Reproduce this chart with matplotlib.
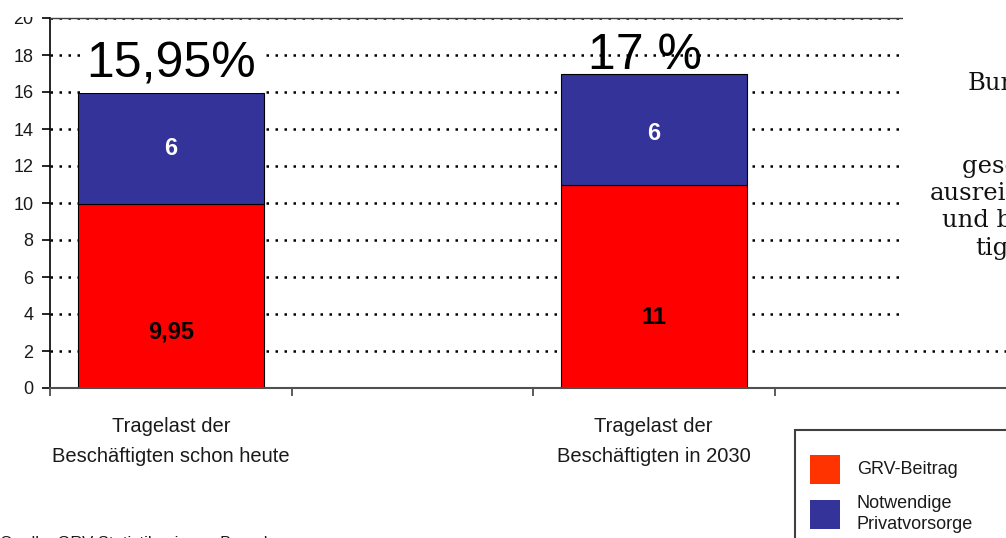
import matplotlib
matplotlib.use("Agg")
import matplotlib.pyplot as plt
from matplotlib.patches import Rectangle
import numpy as np

kategorien = ["Tragelast der\nBeschäftigten schon heute", "Tragelast der\nBeschäftigten in 2030"]
positionen = [0, 2]          # 4 Slots auf der Achse, nur 1 und 3 belegt
grv_beitrag = [9.95, 11]
privatvorsorge = [6, 6]
summen_text = ["15,95%", "17 %"]
serien = ["GRV-Beitrag", "Notwendige\nPrivatvorsorge"]
farben_balken = ["#ff0000", "#333399"]
farben_legende = ["#ff3300", "#333399"]
y_ticks = np.arange(0, 21, 2)

rechter_text = ["Bundesregierung:", "", "", "gesetzliche Rente",
                "ausreichend", "und bezahlbar", "tigt"]

W, H = 1006, 538
plt.rcParams['font.family'] = ['Liberation Sans', 'DejaVu Sans']

fig = plt.figure(figsize=(W / 100, H / 100), dpi=100)
ax = fig.add_axes([50 / W, 150 / H, 966 / W, 370 / H])
ax.set_xlim(-0.5, 3.5)
ax.set_ylim(0, 20)

ax.set_yticks(y_ticks)
ax.yaxis.grid(True, linestyle=(0, (1, 2.6)), linewidth=1.8, color="black")
ax.set_axisbelow(True)

# gestapelte Balken
ax.bar(positionen, grv_beitrag, width=0.77, color=farben_balken[0],
       edgecolor="black", linewidth=0.8, zorder=2)
ax.bar(positionen, privatvorsorge, bottom=grv_beitrag, width=0.77,
       color=farben_balken[1], edgecolor="black", linewidth=0.8, zorder=2)

def de(v):
    return f"{v:g}".replace(".", ",")

# Beschriftungen in den Balken (rote Werte sitzen tiefer als die Mitte)
rot_label_y = [3.0, 3.8]
blau_label_dy = [0, 0.25]
for x, g, p, ry, bdy in zip(positionen, grv_beitrag, privatvorsorge, rot_label_y, blau_label_dy):
    ax.text(x, ry, de(g), ha="center", va="center", fontsize=17,
            fontweight="bold", color="black", zorder=3)
    ax.text(x, g + p / 2 - bdy, de(p), ha="center", va="center", fontsize=17,
            fontweight="bold", color="white", zorder=3)

# Summen oberhalb
summe_y = [16.76, 17.25]
summe_dx = [0, -0.037]
for i, (x, t, sy, dx) in enumerate(zip(positionen, summen_text, summe_y, summe_dx)):
    kw = {}
    if i == 0:
        kw["bbox"] = dict(facecolor="white", edgecolor="none", pad=4)
    ax.text(x + dx, sy, t, ha="center", va="baseline", fontsize=36,
            color="black", zorder=3, **kw)

ax.set_xticks(positionen, kategorien)
ax.set_xticks(np.arange(-0.5, 4, 1), minor=True)
ax.tick_params(axis="x", which="major", length=0, pad=21, labelsize=14.5,
               labelcolor="#1a1a1a")
ax.tick_params(axis="x", which="minor", length=6, width=1.2, color="#404040")
for lab in ax.get_xticklabels():
    lab.set_linespacing(1.75)
ax.tick_params(axis="y", length=6, width=1.2, pad=6, labelsize=13,
               labelcolor="#1a1a1a")

ax.spines["right"].set_visible(False)
ax.spines["top"].set_color("#404040")
ax.spines["top"].set_linewidth(1)
ax.spines["left"].set_color("black")
ax.spines["left"].set_linewidth(1.2)
ax.spines["bottom"].set_color("#505050")
ax.spines["bottom"].set_linewidth(1.5)

# weisse Flaechen der Folie, die ueber dem Diagramm liegen
fig.patches.append(Rectangle((0, 521 / H), 1, 0.1, transform=fig.transFigure,
                             facecolor="white", edgecolor="none", zorder=5))
fig.patches.append(Rectangle((903 / W, (H - 335) / H), 0.2, 1,
                             transform=fig.transFigure, facecolor="white",
                             edgecolor="none", zorder=5))

# Textblock rechts (abgeschnitten)
text_x = [968, 0, 0, 962, 930, 942, 975]
for i, (zeile, tx) in enumerate(zip(rechter_text, text_x)):
    if not zeile:
        continue
    by = 90 + i * 27.5
    fig.text(tx / W, (H - by) / H, zeile, ha="left", va="baseline",
             fontsize=17.5, family="DejaVu Serif", color="#111111", zorder=6)

# Legende als eigener Kasten
fig.patches.append(Rectangle((795 / W, -0.1), 0.3, (H - 430) / H + 0.1,
                             transform=fig.transFigure, facecolor="white",
                             edgecolor="#404040", linewidth=1.5, zorder=5))
patch_top = [455, 500]
for name, farbe, py in zip(serien, farben_legende, patch_top):
    fig.patches.append(Rectangle((810 / W, (H - py - 29) / H), 30 / W, 29 / H,
                                 transform=fig.transFigure, facecolor=farbe,
                                 edgecolor="none", zorder=6))
text_y = [470, 514]
for name, ty in zip(serien, text_y):
    fig.text(857 / W, (H - ty) / H, name, ha="left", va="center",
             fontsize=13, color="#1a1a1a", linespacing=1.3, zorder=6)

# Quelle unten links, fast ganz abgeschnitten
fig.text(0.0, (H - 536) / H, "Quelle: GRV Statistik, eigene Berechnungen",
         ha="left", va="top", fontsize=12, color="#1a1a1a")

fig.savefig("out.png", dpi=100)
